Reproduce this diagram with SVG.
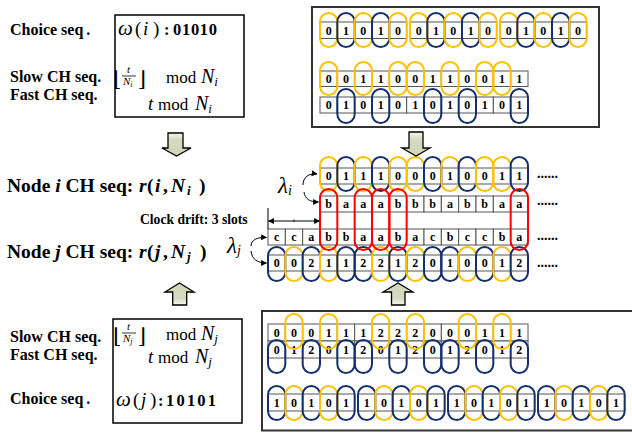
<svg xmlns="http://www.w3.org/2000/svg" width="632" height="433" viewBox="0 0 632 433">
<style>
.lbl{font-family:"Liberation Serif",serif;font-weight:bold;font-size:16px;fill:#000}
.nl{font-family:"Liberation Serif",serif;font-weight:bold;font-size:19.5px;fill:#000}
.bi{font-style:italic}
.m{font-family:"Liberation Serif",serif;fill:#000}
.it{font-style:italic}
.fl{font-family:"DejaVu Serif",serif;font-size:21px}
.bd{font-weight:bold;font-size:16.5px}
.c{fill:#fff;stroke:#555;stroke-width:1}
.t{font-family:"Liberation Serif",serif;font-weight:bold;font-size:12px;text-anchor:middle;fill:#000}
.oy{fill:none;stroke:#FFC000;stroke-width:2}
.on{fill:none;stroke:#14306A;stroke-width:2}
.or{fill:none;stroke:#FF0000;stroke-width:2}
.dots{font-family:"Liberation Serif",serif;font-weight:bold;font-size:14px;fill:#000}
.box{fill:#fff;stroke:#333;stroke-width:2}
.bk{fill:url(#gd);stroke:#000;stroke-width:1.3}
.bku{fill:url(#gu);stroke:#000;stroke-width:1.3}
.cv{fill:none;stroke:#000;stroke-width:1;marker-end:url(#ah)}
</style>
<defs>
<marker id="ah" viewBox="0 0 10 10" refX="9" refY="5" markerWidth="6" markerHeight="6" orient="auto"><path d="M0,0 L10,5 L0,10 z" fill="#000"/></marker>
<linearGradient id="gd" x1="0" y1="0" x2="0" y2="1"><stop offset="0" stop-color="#f6f7ef"/><stop offset="0.3" stop-color="#d6dac2"/><stop offset="1" stop-color="#d2d6bb"/></linearGradient>
<linearGradient id="gu" x1="0" y1="1" x2="0" y2="0"><stop offset="0" stop-color="#f6f7ef"/><stop offset="0.3" stop-color="#d6dac2"/><stop offset="1" stop-color="#d2d6bb"/></linearGradient>
</defs>
<rect width="632" height="433" fill="#fff"/>

<g id="labels-i">
<text class="lbl" x="10" y="35">Choice seq<tspan dx="3">.</tspan></text>
<text class="lbl" x="10" y="81.5">Slow CH seq.</text>
<text class="lbl" x="10" y="99.5">Fast CH seq.</text>
</g>

<g id="formula-i-box">
<rect x="115" y="15" width="129" height="102" fill="#fff" stroke="#000" stroke-width="1.5"/>
<text class="m" y="35" style="font-size:19px"><tspan x="118" class="it" style="font-size:21px">ω</tspan><tspan x="135">(</tspan><tspan x="143" class="it">i</tspan><tspan x="153">)</tspan><tspan x="164" class="bd">:</tspan><tspan x="173" class="bd" textLength="44">01010</tspan></text>
<text class="fl" x="113" y="86">⌊</text>
<text class="m it" x="127" y="73" style="font-size:11px">t</text>
<line x1="122" y1="76" x2="136" y2="76" stroke="#000" stroke-width="0.8"/>
<text class="m it" x="123" y="85" style="font-size:11px">N<tspan style="font-size:8px" dy="1.5">i</tspan></text>
<text class="fl" x="138" y="86">⌋</text>
<text class="m" x="166" y="83" style="font-size:17px">mod</text>
<text class="m it" x="201" y="83" style="font-size:20px">N<tspan style="font-size:13px" dy="3">i</tspan></text>
<text class="m it" x="148" y="110" style="font-size:19px">t</text>
<text class="m" x="158" y="110" style="font-size:17px">mod</text>
<text class="m it" x="195" y="110" style="font-size:20px">N<tspan style="font-size:13px" dy="3">i</tspan></text>
</g>

<g id="seq-i-box">
<rect class="box" x="312" y="7" width="287" height="120"/>
<g id="choice-i-row">
<rect class="c" x="320" y="22" width="17.33" height="16.5"/><rect class="c" x="337.33" y="22" width="17.33" height="16.5"/><rect class="c" x="354.67" y="22" width="17.33" height="16.5"/><rect class="c" x="372" y="22" width="17.33" height="16.5"/><rect class="c" x="389.33" y="22" width="17.33" height="16.5"/>
<rect class="c" x="410" y="22" width="17.33" height="16.5"/><rect class="c" x="427.33" y="22" width="17.33" height="16.5"/><rect class="c" x="444.67" y="22" width="17.33" height="16.5"/><rect class="c" x="462" y="22" width="17.33" height="16.5"/><rect class="c" x="479.33" y="22" width="17.33" height="16.5"/>
<rect class="c" x="500" y="22" width="17.33" height="16.5"/><rect class="c" x="517.33" y="22" width="17.33" height="16.5"/><rect class="c" x="534.67" y="22" width="17.33" height="16.5"/><rect class="c" x="552" y="22" width="17.33" height="16.5"/><rect class="c" x="569.33" y="22" width="17.33" height="16.5"/>
<text class="t" y="34.5"><tspan x="328.67">0</tspan><tspan x="346">1</tspan><tspan x="363.33">0</tspan><tspan x="380.67">1</tspan><tspan x="398">0</tspan><tspan x="418.67">0</tspan><tspan x="436">1</tspan><tspan x="453.33">0</tspan><tspan x="470.67">1</tspan><tspan x="488">0</tspan><tspan x="508.67">0</tspan><tspan x="526">1</tspan><tspan x="543.33">0</tspan><tspan x="560.67">1</tspan><tspan x="578">0</tspan></text>
<rect class="oy" x="320" y="13" width="17.33" height="34" rx="8.67"/><rect class="on" x="337.33" y="13" width="17.33" height="34" rx="8.67"/><rect class="oy" x="354.67" y="13" width="17.33" height="34" rx="8.67"/><rect class="on" x="372" y="13" width="17.33" height="34" rx="8.67"/><rect class="oy" x="389.33" y="13" width="17.33" height="34" rx="8.67"/>
<rect class="oy" x="410" y="13" width="17.33" height="34" rx="8.67"/><rect class="on" x="427.33" y="13" width="17.33" height="34" rx="8.67"/><rect class="oy" x="444.67" y="13" width="17.33" height="34" rx="8.67"/><rect class="on" x="462" y="13" width="17.33" height="34" rx="8.67"/><rect class="oy" x="479.33" y="13" width="17.33" height="34" rx="8.67"/>
<rect class="oy" x="500" y="13" width="17.33" height="34" rx="8.67"/><rect class="on" x="517.33" y="13" width="17.33" height="34" rx="8.67"/><rect class="oy" x="534.67" y="13" width="17.33" height="34" rx="8.67"/><rect class="on" x="552" y="13" width="17.33" height="34" rx="8.67"/><rect class="oy" x="569.33" y="13" width="17.33" height="34" rx="8.67"/>
</g>
<g id="slow-i-row">
<rect class="c" x="320" y="71" width="17.33" height="15.5"/><rect class="c" x="337.33" y="71" width="17.33" height="15.5"/><rect class="c" x="354.67" y="71" width="17.33" height="15.5"/><rect class="c" x="372" y="71" width="17.33" height="15.5"/><rect class="c" x="389.33" y="71" width="17.33" height="15.5"/><rect class="c" x="406.67" y="71" width="17.33" height="15.5"/><rect class="c" x="424" y="71" width="17.33" height="15.5"/><rect class="c" x="441.33" y="71" width="17.33" height="15.5"/><rect class="c" x="458.67" y="71" width="17.33" height="15.5"/><rect class="c" x="476" y="71" width="17.33" height="15.5"/><rect class="c" x="493.33" y="71" width="17.33" height="15.5"/><rect class="c" x="510.67" y="71" width="17.33" height="15.5"/>
<text class="t" y="83"><tspan x="328.67">0</tspan><tspan x="346">0</tspan><tspan x="363.33">1</tspan><tspan x="380.67">1</tspan><tspan x="398">0</tspan><tspan x="415.33">0</tspan><tspan x="432.67">1</tspan><tspan x="450">1</tspan><tspan x="467.33">0</tspan><tspan x="484.67">0</tspan><tspan x="502">1</tspan><tspan x="519.33">1</tspan></text>
<rect class="oy" x="320" y="62" width="17.33" height="33" rx="8.67"/><rect class="oy" x="354.67" y="62" width="17.33" height="33" rx="8.67"/><rect class="oy" x="389.33" y="62" width="17.33" height="33" rx="8.67"/><rect class="oy" x="406.67" y="62" width="17.33" height="33" rx="8.67"/><rect class="oy" x="441.33" y="62" width="17.33" height="33" rx="8.67"/><rect class="oy" x="476" y="62" width="17.33" height="33" rx="8.67"/><rect class="oy" x="493.33" y="62" width="17.33" height="33" rx="8.67"/>
</g>
<g id="fast-i-row">
<rect class="c" x="320" y="97" width="17.33" height="16"/><rect class="c" x="337.33" y="97" width="17.33" height="16"/><rect class="c" x="354.67" y="97" width="17.33" height="16"/><rect class="c" x="372" y="97" width="17.33" height="16"/><rect class="c" x="389.33" y="97" width="17.33" height="16"/><rect class="c" x="406.67" y="97" width="17.33" height="16"/><rect class="c" x="424" y="97" width="17.33" height="16"/><rect class="c" x="441.33" y="97" width="17.33" height="16"/><rect class="c" x="458.67" y="97" width="17.33" height="16"/><rect class="c" x="476" y="97" width="17.33" height="16"/><rect class="c" x="493.33" y="97" width="17.33" height="16"/><rect class="c" x="510.67" y="97" width="17.33" height="16"/>
<text class="t" y="109.2"><tspan x="328.67">0</tspan><tspan x="346">1</tspan><tspan x="363.33">0</tspan><tspan x="380.67">1</tspan><tspan x="398">0</tspan><tspan x="415.33">1</tspan><tspan x="432.67">0</tspan><tspan x="450">1</tspan><tspan x="467.33">0</tspan><tspan x="484.67">1</tspan><tspan x="502">0</tspan><tspan x="519.33">1</tspan></text>
<rect class="on" x="337.33" y="89" width="17.33" height="34" rx="8.67"/><rect class="on" x="372" y="89" width="17.33" height="34" rx="8.67"/><rect class="on" x="424" y="89" width="17.33" height="34" rx="8.67"/><rect class="on" x="458.67" y="89" width="17.33" height="34" rx="8.67"/><rect class="on" x="510.67" y="89" width="17.33" height="34" rx="8.67"/>
</g>
</g>

<g id="node-i-label">
<text class="nl" y="192"><tspan x="7">Node </tspan><tspan class="bi">i</tspan><tspan> CH seq: </tspan><tspan x="139" class="bi">r</tspan><tspan x="147">(</tspan><tspan x="155" class="bi">i</tspan><tspan x="163">,</tspan><tspan x="171" class="bi">N</tspan><tspan x="187" class="bi" style="font-size:13px" dy="3">i</tspan><tspan x="199" dy="-3">)</tspan></text>
</g>
<g id="node-j-label">
<text class="nl" y="258"><tspan x="7">Node </tspan><tspan class="bi">j</tspan><tspan> CH seq: </tspan><tspan x="139" class="bi">r</tspan><tspan x="147">(</tspan><tspan x="155" class="bi">j</tspan><tspan x="163">,</tspan><tspan x="171" class="bi">N</tspan><tspan x="187" class="bi" style="font-size:13px" dy="3">j</tspan><tspan x="200" dy="-3">)</tspan></text>
</g>
<g id="drift-label">
<text class="lbl" x="140" y="224" style="font-size:13.6px">Clock drift: 3 slots</text>
</g>
<g id="lambda-i">
<text class="m it" x="278" y="193" style="font-size:23px">λ<tspan style="font-size:14px" dy="2">i</tspan></text>
</g>
<g id="lambda-j">
<text class="m it" x="227" y="253" style="font-size:23px">λ<tspan style="font-size:14px" dy="2">j</tspan></text>
</g>

<g id="node-i-seq">
<rect class="c" x="320" y="168" width="17.33" height="16"/><rect class="c" x="337.33" y="168" width="17.33" height="16"/><rect class="c" x="354.67" y="168" width="17.33" height="16"/><rect class="c" x="372" y="168" width="17.33" height="16"/><rect class="c" x="389.33" y="168" width="17.33" height="16"/><rect class="c" x="406.67" y="168" width="17.33" height="16"/><rect class="c" x="424" y="168" width="17.33" height="16"/><rect class="c" x="441.33" y="168" width="17.33" height="16"/><rect class="c" x="458.67" y="168" width="17.33" height="16"/><rect class="c" x="476" y="168" width="17.33" height="16"/><rect class="c" x="493.33" y="168" width="17.33" height="16"/><rect class="c" x="510.67" y="168" width="17.33" height="16"/>
<text class="t" y="180.2"><tspan x="328.67">0</tspan><tspan x="346">1</tspan><tspan x="363.33">1</tspan><tspan x="380.67">1</tspan><tspan x="398">0</tspan><tspan x="415.33">0</tspan><tspan x="432.67">0</tspan><tspan x="450">1</tspan><tspan x="467.33">0</tspan><tspan x="484.67">0</tspan><tspan x="502">1</tspan><tspan x="519.33">1</tspan></text>
<rect class="oy" x="320" y="157" width="17.33" height="34" rx="8.67"/><rect class="on" x="337.33" y="157" width="17.33" height="34" rx="8.67"/><rect class="oy" x="354.67" y="157" width="17.33" height="34" rx="8.67"/><rect class="on" x="372" y="157" width="17.33" height="34" rx="8.67"/><rect class="oy" x="389.33" y="157" width="17.33" height="34" rx="8.67"/><rect class="oy" x="406.67" y="157" width="17.33" height="34" rx="8.67"/><rect class="on" x="424" y="157" width="17.33" height="34" rx="8.67"/><rect class="oy" x="441.33" y="157" width="17.33" height="34" rx="8.67"/><rect class="on" x="458.67" y="157" width="17.33" height="34" rx="8.67"/><rect class="oy" x="476" y="157" width="17.33" height="34" rx="8.67"/><rect class="oy" x="493.33" y="157" width="17.33" height="34" rx="8.67"/><rect class="on" x="510.67" y="157" width="17.33" height="34" rx="8.67"/>
<text class="dots" x="537" y="178">......</text>
</g>

<g id="node-i-mapped">
<rect class="c" x="320" y="196" width="17.33" height="16"/><rect class="c" x="337.33" y="196" width="17.33" height="16"/><rect class="c" x="354.67" y="196" width="17.33" height="16"/><rect class="c" x="372" y="196" width="17.33" height="16"/><rect class="c" x="389.33" y="196" width="17.33" height="16"/><rect class="c" x="406.67" y="196" width="17.33" height="16"/><rect class="c" x="424" y="196" width="17.33" height="16"/><rect class="c" x="441.33" y="196" width="17.33" height="16"/><rect class="c" x="458.67" y="196" width="17.33" height="16"/><rect class="c" x="476" y="196" width="17.33" height="16"/><rect class="c" x="493.33" y="196" width="17.33" height="16"/><rect class="c" x="510.67" y="196" width="17.33" height="16"/>
<text class="t" y="207.5"><tspan x="328.67">b</tspan><tspan x="346">a</tspan><tspan x="363.33">a</tspan><tspan x="380.67">a</tspan><tspan x="398">b</tspan><tspan x="415.33">b</tspan><tspan x="432.67">b</tspan><tspan x="450">a</tspan><tspan x="467.33">b</tspan><tspan x="484.67">b</tspan><tspan x="502">a</tspan><tspan x="519.33">a</tspan></text>
<text class="dots" x="537" y="205">......</text>
</g>

<g id="node-j-mapped">
<rect class="c" x="268" y="229" width="17.33" height="16"/><rect class="c" x="285.33" y="229" width="17.33" height="16"/><rect class="c" x="302.67" y="229" width="17.33" height="16"/><rect class="c" x="320" y="229" width="17.33" height="16"/><rect class="c" x="337.33" y="229" width="17.33" height="16"/><rect class="c" x="354.67" y="229" width="17.33" height="16"/><rect class="c" x="372" y="229" width="17.33" height="16"/><rect class="c" x="389.33" y="229" width="17.33" height="16"/><rect class="c" x="406.67" y="229" width="17.33" height="16"/><rect class="c" x="424" y="229" width="17.33" height="16"/><rect class="c" x="441.33" y="229" width="17.33" height="16"/><rect class="c" x="458.67" y="229" width="17.33" height="16"/><rect class="c" x="476" y="229" width="17.33" height="16"/><rect class="c" x="493.33" y="229" width="17.33" height="16"/><rect class="c" x="510.67" y="229" width="17.33" height="16"/>
<text class="t" y="240.5"><tspan x="276.67">c</tspan><tspan x="294">c</tspan><tspan x="311.33">a</tspan><tspan x="328.67">b</tspan><tspan x="346">b</tspan><tspan x="363.33">a</tspan><tspan x="380.67">a</tspan><tspan x="398">b</tspan><tspan x="415.33">a</tspan><tspan x="432.67">c</tspan><tspan x="450">b</tspan><tspan x="467.33">c</tspan><tspan x="484.67">c</tspan><tspan x="502">b</tspan><tspan x="519.33">a</tspan></text>
<text class="dots" x="537" y="240">......</text>
</g>

<g id="node-j-seq">
<rect class="c" x="268" y="255" width="17.33" height="16"/><rect class="c" x="285.33" y="255" width="17.33" height="16"/><rect class="c" x="302.67" y="255" width="17.33" height="16"/><rect class="c" x="320" y="255" width="17.33" height="16"/><rect class="c" x="337.33" y="255" width="17.33" height="16"/><rect class="c" x="354.67" y="255" width="17.33" height="16"/><rect class="c" x="372" y="255" width="17.33" height="16"/><rect class="c" x="389.33" y="255" width="17.33" height="16"/><rect class="c" x="406.67" y="255" width="17.33" height="16"/><rect class="c" x="424" y="255" width="17.33" height="16"/><rect class="c" x="441.33" y="255" width="17.33" height="16"/><rect class="c" x="458.67" y="255" width="17.33" height="16"/><rect class="c" x="476" y="255" width="17.33" height="16"/><rect class="c" x="493.33" y="255" width="17.33" height="16"/><rect class="c" x="510.67" y="255" width="17.33" height="16"/>
<text class="t" y="267.2"><tspan x="276.67">0</tspan><tspan x="294">0</tspan><tspan x="311.33">2</tspan><tspan x="328.67">1</tspan><tspan x="346">1</tspan><tspan x="363.33">2</tspan><tspan x="380.67">2</tspan><tspan x="398">1</tspan><tspan x="415.33">2</tspan><tspan x="432.67">0</tspan><tspan x="450">1</tspan><tspan x="467.33">0</tspan><tspan x="484.67">0</tspan><tspan x="502">1</tspan><tspan x="519.33">2</tspan></text>
<rect class="on" x="268" y="247" width="17.33" height="34" rx="8.67"/><rect class="oy" x="285.33" y="247" width="17.33" height="34" rx="8.67"/><rect class="on" x="302.67" y="247" width="17.33" height="34" rx="8.67"/><rect class="oy" x="320" y="247" width="17.33" height="34" rx="8.67"/><rect class="on" x="337.33" y="247" width="17.33" height="34" rx="8.67"/><rect class="on" x="354.67" y="247" width="17.33" height="34" rx="8.67"/><rect class="oy" x="372" y="247" width="17.33" height="34" rx="8.67"/><rect class="on" x="389.33" y="247" width="17.33" height="34" rx="8.67"/><rect class="oy" x="406.67" y="247" width="17.33" height="34" rx="8.67"/><rect class="on" x="424" y="247" width="17.33" height="34" rx="8.67"/><rect class="on" x="441.33" y="247" width="17.33" height="34" rx="8.67"/><rect class="oy" x="458.67" y="247" width="17.33" height="34" rx="8.67"/><rect class="on" x="476" y="247" width="17.33" height="34" rx="8.67"/><rect class="oy" x="493.33" y="247" width="17.33" height="34" rx="8.67"/><rect class="on" x="510.67" y="247" width="17.33" height="34" rx="8.67"/>
<text class="dots" x="537" y="266.5">......</text>
</g>

<g id="rendezvous-marks">
<rect class="or" x="320" y="189" width="17.33" height="61" rx="8.67"/><rect class="or" x="354.67" y="189" width="17.33" height="61" rx="8.67"/><rect class="or" x="372" y="189" width="17.33" height="61" rx="8.67"/><rect class="or" x="389.33" y="189" width="17.33" height="61" rx="8.67"/><rect class="or" x="510.67" y="189" width="17.33" height="61" rx="8.67"/>
</g>

<g id="labels-j">
<text class="lbl" x="10" y="341.5">Slow CH seq.</text>
<text class="lbl" x="10" y="360">Fast CH seq.</text>
<text class="lbl" x="10" y="404">Choice seq<tspan dx="3">.</tspan></text>
</g>

<g id="formula-j-box">
<rect x="113" y="319" width="129" height="104" fill="#fff" stroke="#000" stroke-width="1.5"/>
<text class="fl" x="113" y="343">⌊</text>
<text class="m it" x="127" y="330" style="font-size:11px">t</text>
<line x1="122" y1="333" x2="136" y2="333" stroke="#000" stroke-width="0.8"/>
<text class="m it" x="123" y="342" style="font-size:11px">N<tspan style="font-size:8px" dy="1.5">j</tspan></text>
<text class="fl" x="138" y="343">⌋</text>
<text class="m" x="166" y="340" style="font-size:17px">mod</text>
<text class="m it" x="201" y="340" style="font-size:20px">N<tspan style="font-size:13px" dy="3">j</tspan></text>
<text class="m it" x="148" y="363" style="font-size:19px">t</text>
<text class="m" x="158" y="363" style="font-size:17px">mod</text>
<text class="m it" x="195" y="363" style="font-size:20px">N<tspan style="font-size:13px" dy="3">j</tspan></text>
<text class="m" y="406" style="font-size:19px"><tspan x="116" class="it" style="font-size:21px">ω</tspan><tspan x="133">(</tspan><tspan x="141" class="it">j</tspan><tspan x="150">)</tspan><tspan x="158" class="bd">:</tspan><tspan x="166" class="bd" textLength="50">10101</tspan></text>
</g>

<g id="seq-j-box">
<rect class="box" x="262" y="311" width="380" height="119.5"/>
<g id="slow-j-row">
<rect class="c" x="268" y="324" width="17.33" height="17"/><rect class="c" x="285.33" y="324" width="17.33" height="17"/><rect class="c" x="302.67" y="324" width="17.33" height="17"/><rect class="c" x="320" y="324" width="17.33" height="17"/><rect class="c" x="337.33" y="324" width="17.33" height="17"/><rect class="c" x="354.67" y="324" width="17.33" height="17"/><rect class="c" x="372" y="324" width="17.33" height="17"/><rect class="c" x="389.33" y="324" width="17.33" height="17"/><rect class="c" x="406.67" y="324" width="17.33" height="17"/><rect class="c" x="424" y="324" width="17.33" height="17"/><rect class="c" x="441.33" y="324" width="17.33" height="17"/><rect class="c" x="458.67" y="324" width="17.33" height="17"/><rect class="c" x="476" y="324" width="17.33" height="17"/><rect class="c" x="493.33" y="324" width="17.33" height="17"/><rect class="c" x="510.67" y="324" width="17.33" height="17"/>
<text class="t" y="336.7"><tspan x="276.67">0</tspan><tspan x="294">0</tspan><tspan x="311.33">0</tspan><tspan x="328.67">1</tspan><tspan x="346">1</tspan><tspan x="363.33">1</tspan><tspan x="380.67">2</tspan><tspan x="398">2</tspan><tspan x="415.33">2</tspan><tspan x="432.67">0</tspan><tspan x="450">0</tspan><tspan x="467.33">0</tspan><tspan x="484.67">1</tspan><tspan x="502">1</tspan><tspan x="519.33">1</tspan></text>
</g>
<g id="fast-j-row">
<rect class="c" x="268" y="341" width="17.33" height="17"/><rect class="c" x="285.33" y="341" width="17.33" height="17"/><rect class="c" x="302.67" y="341" width="17.33" height="17"/><rect class="c" x="320" y="341" width="17.33" height="17"/><rect class="c" x="337.33" y="341" width="17.33" height="17"/><rect class="c" x="354.67" y="341" width="17.33" height="17"/><rect class="c" x="372" y="341" width="17.33" height="17"/><rect class="c" x="389.33" y="341" width="17.33" height="17"/><rect class="c" x="406.67" y="341" width="17.33" height="17"/><rect class="c" x="424" y="341" width="17.33" height="17"/><rect class="c" x="441.33" y="341" width="17.33" height="17"/><rect class="c" x="458.67" y="341" width="17.33" height="17"/><rect class="c" x="476" y="341" width="17.33" height="17"/><rect class="c" x="493.33" y="341" width="17.33" height="17"/><rect class="c" x="510.67" y="341" width="17.33" height="17"/>
<text class="t" y="353.7"><tspan x="276.67">0</tspan><tspan x="294">1</tspan><tspan x="311.33">2</tspan><tspan x="328.67">0</tspan><tspan x="346">1</tspan><tspan x="363.33">2</tspan><tspan x="380.67">0</tspan><tspan x="398">1</tspan><tspan x="415.33">2</tspan><tspan x="432.67">0</tspan><tspan x="450">1</tspan><tspan x="467.33">2</tspan><tspan x="484.67">0</tspan><tspan x="502">1</tspan><tspan x="519.33">2</tspan></text>
</g>
<rect class="oy" x="285.33" y="314" width="17.33" height="35" rx="8.67"/><rect class="oy" x="320" y="314" width="17.33" height="35" rx="8.67"/><rect class="oy" x="372" y="314" width="17.33" height="35" rx="8.67"/><rect class="oy" x="406.67" y="314" width="17.33" height="35" rx="8.67"/><rect class="oy" x="458.67" y="314" width="17.33" height="35" rx="8.67"/><rect class="oy" x="493.33" y="314" width="17.33" height="35" rx="8.67"/>
<rect class="on" x="268" y="340" width="17.33" height="33" rx="8.67"/><rect class="on" x="302.67" y="340" width="17.33" height="33" rx="8.67"/><rect class="on" x="337.33" y="340" width="17.33" height="33" rx="8.67"/><rect class="on" x="354.67" y="340" width="17.33" height="33" rx="8.67"/><rect class="on" x="389.33" y="340" width="17.33" height="33" rx="8.67"/><rect class="on" x="424" y="340" width="17.33" height="33" rx="8.67"/><rect class="on" x="441.33" y="340" width="17.33" height="33" rx="8.67"/><rect class="on" x="476" y="340" width="17.33" height="33" rx="8.67"/><rect class="on" x="510.67" y="340" width="17.33" height="33" rx="8.67"/>
<g id="choice-j-row">
<rect class="c" x="268" y="394" width="17.33" height="17"/><rect class="c" x="285.33" y="394" width="17.33" height="17"/><rect class="c" x="302.67" y="394" width="17.33" height="17"/><rect class="c" x="320" y="394" width="17.33" height="17"/><rect class="c" x="337.33" y="394" width="17.33" height="17"/>
<rect class="c" x="358" y="394" width="17.33" height="17"/><rect class="c" x="375.33" y="394" width="17.33" height="17"/><rect class="c" x="392.67" y="394" width="17.33" height="17"/><rect class="c" x="410" y="394" width="17.33" height="17"/><rect class="c" x="427.33" y="394" width="17.33" height="17"/>
<rect class="c" x="448" y="394" width="17.33" height="17"/><rect class="c" x="465.33" y="394" width="17.33" height="17"/><rect class="c" x="482.67" y="394" width="17.33" height="17"/><rect class="c" x="500" y="394" width="17.33" height="17"/><rect class="c" x="517.33" y="394" width="17.33" height="17"/>
<rect class="c" x="538" y="394" width="17.33" height="17"/><rect class="c" x="555.33" y="394" width="17.33" height="17"/><rect class="c" x="572.67" y="394" width="17.33" height="17"/><rect class="c" x="590" y="394" width="17.33" height="17"/><rect class="c" x="607.33" y="394" width="17.33" height="17"/>
<text class="t" y="406.7"><tspan x="276.67">1</tspan><tspan x="294">0</tspan><tspan x="311.33">1</tspan><tspan x="328.67">0</tspan><tspan x="346">1</tspan><tspan x="366.67">1</tspan><tspan x="384">0</tspan><tspan x="401.33">1</tspan><tspan x="418.67">0</tspan><tspan x="436">1</tspan><tspan x="456.67">1</tspan><tspan x="474">0</tspan><tspan x="491.33">1</tspan><tspan x="508.67">0</tspan><tspan x="526">1</tspan><tspan x="546.67">1</tspan><tspan x="564">0</tspan><tspan x="581.33">1</tspan><tspan x="598.67">0</tspan><tspan x="616">1</tspan></text>
<rect class="on" x="268" y="386" width="17.33" height="34" rx="8.67"/><rect class="oy" x="285.33" y="386" width="17.33" height="34" rx="8.67"/><rect class="on" x="302.67" y="386" width="17.33" height="34" rx="8.67"/><rect class="oy" x="320" y="386" width="17.33" height="34" rx="8.67"/><rect class="on" x="337.33" y="386" width="17.33" height="34" rx="8.67"/>
<rect class="on" x="358" y="386" width="17.33" height="34" rx="8.67"/><rect class="oy" x="375.33" y="386" width="17.33" height="34" rx="8.67"/><rect class="on" x="392.67" y="386" width="17.33" height="34" rx="8.67"/><rect class="oy" x="410" y="386" width="17.33" height="34" rx="8.67"/><rect class="on" x="427.33" y="386" width="17.33" height="34" rx="8.67"/>
<rect class="on" x="448" y="386" width="17.33" height="34" rx="8.67"/><rect class="oy" x="465.33" y="386" width="17.33" height="34" rx="8.67"/><rect class="on" x="482.67" y="386" width="17.33" height="34" rx="8.67"/><rect class="oy" x="500" y="386" width="17.33" height="34" rx="8.67"/><rect class="on" x="517.33" y="386" width="17.33" height="34" rx="8.67"/>
<rect class="on" x="538" y="386" width="17.33" height="34" rx="8.67"/><rect class="oy" x="555.33" y="386" width="17.33" height="34" rx="8.67"/><rect class="on" x="572.67" y="386" width="17.33" height="34" rx="8.67"/><rect class="oy" x="590" y="386" width="17.33" height="34" rx="8.67"/><rect class="on" x="607.33" y="386" width="17.33" height="34" rx="8.67"/>
</g>
</g>

<g id="connectors">
<polygon class="bk" points="168,133 183,133 183,148 191,148 176.5,156 162,148 168,148"/>
<polygon class="bk" points="409,132 423,132 423,148 430,148 416,156 402,148 409,148"/>
<polygon class="bku" points="172.7,305 186.7,305 186.7,292 194,292 179.5,283 165,292 172.7,292"/>
<polygon class="bku" points="391.5,305 405,305 405,292 413,292 398,283 383,292 391.5,292"/>
<path class="cv" d="M303,185 C303,177 309,173 317,174"/>
<path class="cv" d="M304,192 C305,199 310,202 318.5,202"/>
<path class="cv" d="M251,246 C251,240 257,237 266.5,237.5"/>
<path class="cv" d="M251,251 C252,259 257,263 266.5,263"/>
<line x1="268" y1="208" x2="268" y2="229" stroke="#000" stroke-width="1"/>
<line class="cv" x1="294" y1="221" x2="268.5" y2="221"/>
<line class="cv" x1="294" y1="221" x2="319.5" y2="221"/>
<line x1="294" y1="219.5" x2="294" y2="222" stroke="#000" stroke-width="0.8"/>
</g>
</svg>
